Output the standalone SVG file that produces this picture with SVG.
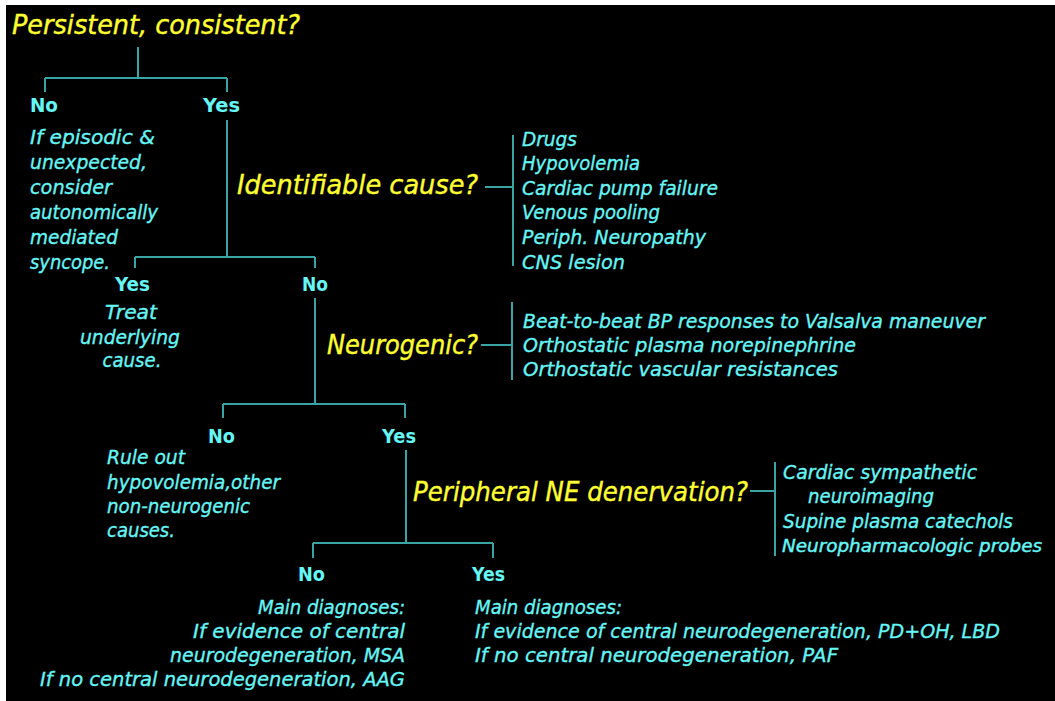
<svg xmlns="http://www.w3.org/2000/svg" width="1055" height="701" viewBox="0 0 1055 701">
<style>
.bg{fill:#000}
.q{fill:#ffff33;stroke:#ffff33;stroke-width:0.4;font-family:"DejaVu Sans","Liberation Sans",sans-serif;font-style:italic;font-size:27px}
.t{fill:#66f6f6;stroke:#66f6f6;stroke-width:0.35;font-family:"DejaVu Sans","Liberation Sans",sans-serif;font-style:italic;font-size:20px}
.s{font-size:18px;stroke-width:0.45}
.yn{fill:#66f6f6;font-family:"DejaVu Sans","Liberation Sans",sans-serif;font-size:20px;font-weight:bold}
.c line{stroke:#3aa3a3;stroke-width:2;fill:none}
</style>
<rect x="0" y="0" width="1055" height="701" fill="#fff"/>
<rect class="bg" x="6" y="5" width="1049" height="696"/>
<g class="c" id="connectors">
<line x1="138" y1="47" x2="138" y2="78"/>
<line x1="45" y1="78" x2="227" y2="78"/>
<line x1="45" y1="78" x2="45" y2="92"/>
<line x1="227" y1="78" x2="227" y2="92"/>
<line x1="227" y1="120" x2="227" y2="257"/>
<line x1="135" y1="257" x2="315" y2="257"/>
<line x1="135" y1="257" x2="135" y2="268"/>
<line x1="315" y1="257" x2="315" y2="268"/>
<line x1="485" y1="187" x2="513" y2="187"/>
<line x1="513" y1="135" x2="513" y2="266"/>
<line x1="315" y1="298" x2="315" y2="404"/>
<line x1="481" y1="345" x2="511" y2="345"/>
<line x1="512" y1="302" x2="512" y2="380"/>
<line x1="223" y1="404" x2="405" y2="404"/>
<line x1="223" y1="404" x2="223" y2="418"/>
<line x1="405" y1="404" x2="405" y2="418"/>
<line x1="406" y1="450" x2="406" y2="543"/>
<line x1="750" y1="491" x2="775" y2="491"/>
<line x1="775" y1="462" x2="775" y2="556"/>
<line x1="313" y1="543" x2="493" y2="543"/>
<line x1="313" y1="543" x2="313" y2="558"/>
<line x1="493" y1="543" x2="493" y2="558"/>
</g>
<g id="q1"><text class="q" x="12" y="34" textLength="288" lengthAdjust="spacingAndGlyphs">Persistent, consistent?</text></g>
<g id="no1"><text class="yn" x="30" y="112" textLength="28" lengthAdjust="spacingAndGlyphs">No</text></g>
<g id="yes1"><text class="yn" x="203" y="112" textLength="37" lengthAdjust="spacingAndGlyphs">Yes</text></g>
<g id="no1-note">
<text class="t" x="30" y="144" textLength="125" lengthAdjust="spacingAndGlyphs">If episodic &amp;</text>
<text class="t" x="30" y="169" textLength="117" lengthAdjust="spacingAndGlyphs">unexpected,</text>
<text class="t" x="30" y="194" textLength="82" lengthAdjust="spacingAndGlyphs">consider</text>
<text class="t" x="30" y="219" textLength="128" lengthAdjust="spacingAndGlyphs">autonomically</text>
<text class="t" x="30" y="244" textLength="88" lengthAdjust="spacingAndGlyphs">mediated</text>
<text class="t" x="30" y="269" textLength="80" lengthAdjust="spacingAndGlyphs">syncope.</text>
</g>
<g id="q2"><text class="q" x="237" y="194" textLength="241" lengthAdjust="spacingAndGlyphs">Identifiable cause?</text></g>
<g id="q2-list">
<text class="t" x="522" y="146" textLength="55" lengthAdjust="spacingAndGlyphs">Drugs</text>
<text class="t" x="522" y="170" textLength="118" lengthAdjust="spacingAndGlyphs">Hypovolemia</text>
<text class="t" x="522" y="195" textLength="196" lengthAdjust="spacingAndGlyphs">Cardiac pump failure</text>
<text class="t" x="522" y="219" textLength="138" lengthAdjust="spacingAndGlyphs">Venous pooling</text>
<text class="t" x="522" y="244" textLength="184" lengthAdjust="spacingAndGlyphs">Periph. Neuropathy</text>
<text class="t" x="522" y="269" textLength="103" lengthAdjust="spacingAndGlyphs">CNS lesion</text>
</g>
<g id="yes2"><text class="yn" x="115" y="291" textLength="35" lengthAdjust="spacingAndGlyphs">Yes</text></g>
<g id="no2"><text class="yn" x="302" y="291" textLength="26" lengthAdjust="spacingAndGlyphs">No</text></g>
<g id="yes2-note">
<text class="t" x="131" y="319" text-anchor="middle" textLength="52" lengthAdjust="spacingAndGlyphs">Treat</text>
<text class="t" x="130" y="344" text-anchor="middle" textLength="100" lengthAdjust="spacingAndGlyphs">underlying</text>
<text class="t" x="132" y="367" text-anchor="middle" textLength="59" lengthAdjust="spacingAndGlyphs">cause.</text>
</g>
<g id="q3"><text class="q" x="327" y="354" textLength="151" lengthAdjust="spacingAndGlyphs">Neurogenic?</text></g>
<g id="q3-list">
<text class="t" x="523" y="328" textLength="462" lengthAdjust="spacingAndGlyphs">Beat-to-beat BP responses to Valsalva maneuver</text>
<text class="t" x="523" y="352" textLength="333" lengthAdjust="spacingAndGlyphs">Orthostatic plasma norepinephrine</text>
<text class="t" x="523" y="376" textLength="315" lengthAdjust="spacingAndGlyphs">Orthostatic vascular resistances</text>
</g>
<g id="no3"><text class="yn" x="208" y="443" textLength="27" lengthAdjust="spacingAndGlyphs">No</text></g>
<g id="yes3"><text class="yn" x="382" y="443" textLength="34" lengthAdjust="spacingAndGlyphs">Yes</text></g>
<g id="no3-note">
<text class="t" x="107" y="464" textLength="78" lengthAdjust="spacingAndGlyphs">Rule out</text>
<text class="t" x="107" y="489" textLength="173" lengthAdjust="spacingAndGlyphs">hypovolemia,other</text>
<text class="t" x="107" y="513" textLength="143" lengthAdjust="spacingAndGlyphs">non-neurogenic</text>
<text class="t" x="107" y="537" textLength="68" lengthAdjust="spacingAndGlyphs">causes.</text>
</g>
<g id="q4"><text class="q" x="413" y="501" textLength="335" lengthAdjust="spacingAndGlyphs">Peripheral NE denervation?</text></g>
<g id="q4-list">
<text class="t" x="783" y="479" textLength="194" lengthAdjust="spacingAndGlyphs">Cardiac sympathetic</text>
<text class="t" x="808" y="503" textLength="126" lengthAdjust="spacingAndGlyphs">neuroimaging</text>
<text class="t" x="783" y="528" textLength="230" lengthAdjust="spacingAndGlyphs">Supine plasma catechols</text>
<text class="t s" x="782" y="552" textLength="260" lengthAdjust="spacingAndGlyphs">Neuropharmacologic probes</text>
</g>
<g id="no4"><text class="yn" x="298" y="581" textLength="27" lengthAdjust="spacingAndGlyphs">No</text></g>
<g id="yes4"><text class="yn" x="472" y="581" textLength="33" lengthAdjust="spacingAndGlyphs">Yes</text></g>
<g id="no4-note">
<text class="t" x="405" y="614" text-anchor="end" textLength="147" lengthAdjust="spacingAndGlyphs">Main diagnoses:</text>
<text class="t" x="405" y="638" text-anchor="end" textLength="212" lengthAdjust="spacingAndGlyphs">If evidence of central</text>
<text class="t" x="405" y="662" text-anchor="end" textLength="235" lengthAdjust="spacingAndGlyphs">neurodegeneration, MSA</text>
<text class="t" x="405" y="686" text-anchor="end" textLength="365" lengthAdjust="spacingAndGlyphs">If no central neurodegeneration, AAG</text>
</g>
<g id="yes4-note">
<text class="t" x="475" y="614" textLength="147" lengthAdjust="spacingAndGlyphs">Main diagnoses:</text>
<text class="t" x="475" y="638" textLength="525" lengthAdjust="spacingAndGlyphs">If evidence of central neurodegeneration, PD+OH, LBD</text>
<text class="t" x="475" y="662" textLength="363" lengthAdjust="spacingAndGlyphs">If no central neurodegeneration, PAF</text>
</g>
</svg>
